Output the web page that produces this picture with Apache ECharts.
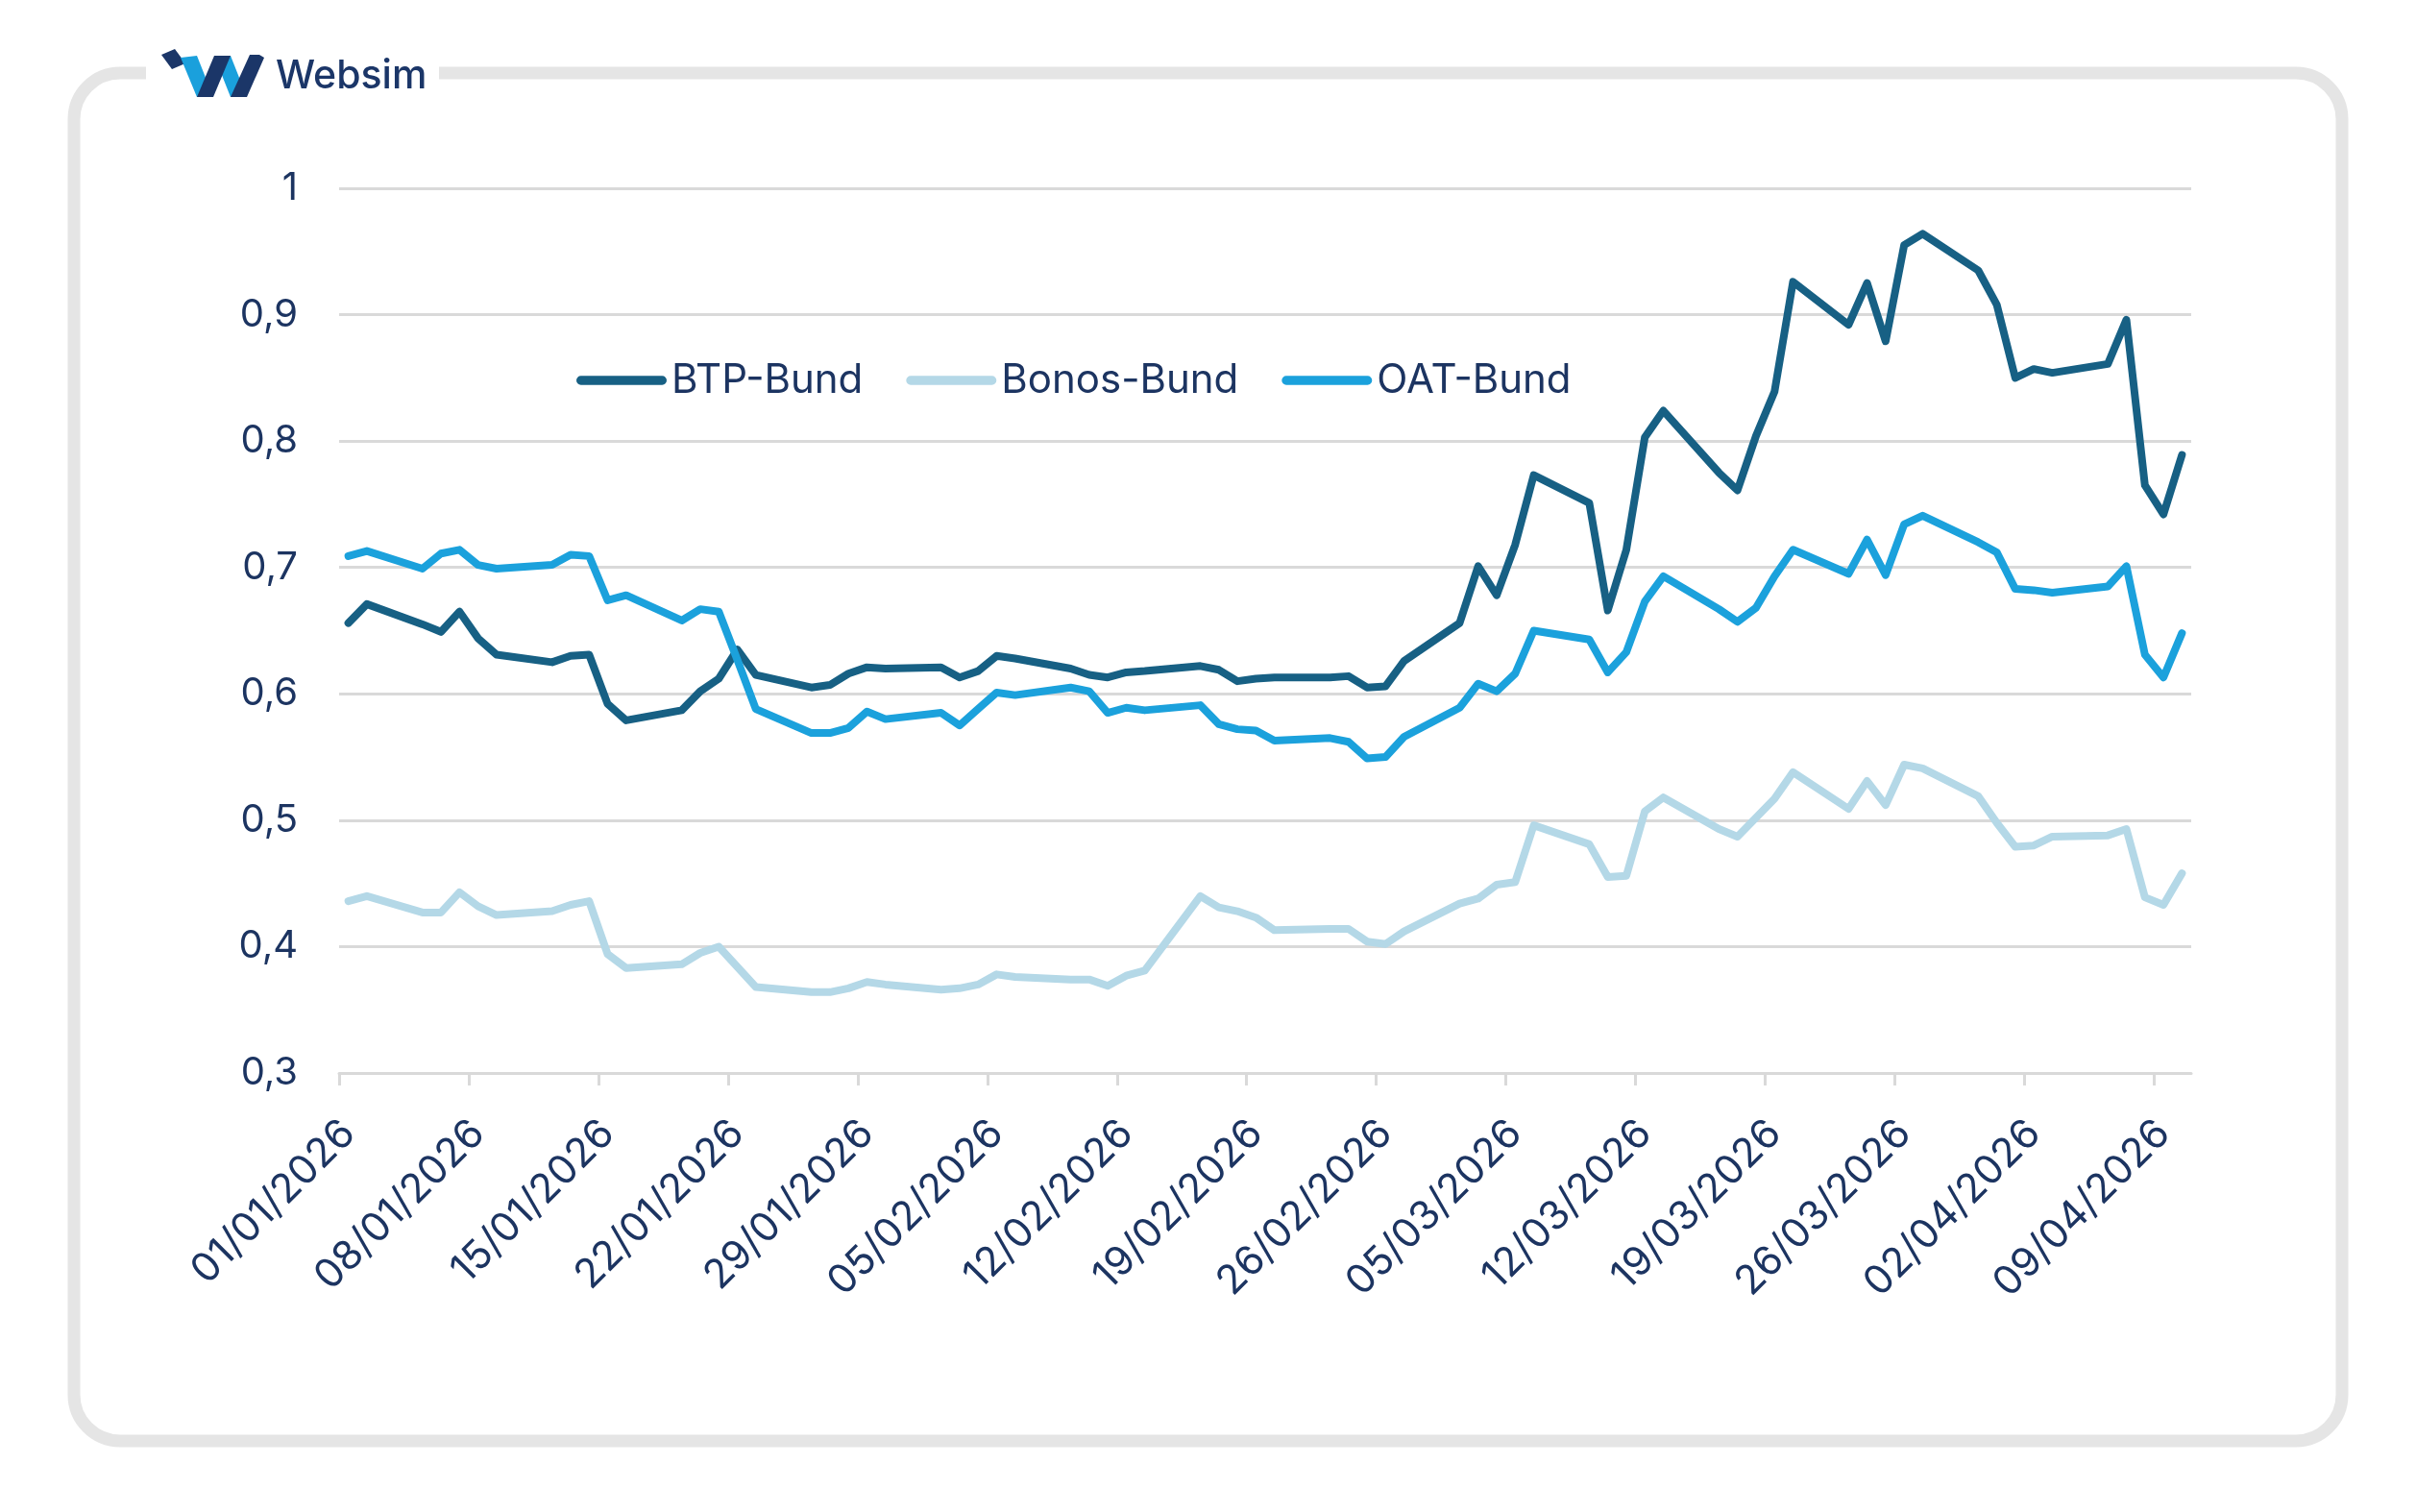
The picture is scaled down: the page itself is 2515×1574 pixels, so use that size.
<!DOCTYPE html>
<html>
<head>
<meta charset="utf-8">
<script src="https://cdn.jsdelivr.net/npm/echarts@6/dist/echarts.min.js"></script>
<style>
  html, body { margin: 0; padding: 0; background: #ffffff; }
  #chart { width: 2515px; height: 1574px; }
</style>
</head>
<body>
<div id="chart"></div>
<script>
// ---- Data ----
const seriesNames = ['BTP-Bund', 'Bonos-Bund', 'OAT-Bund'];

const tickLabels = ['01/01/2026','08/01/2026','15/01/2026','22/01/2026','29/01/2026','05/02/2026','12/02/2026',
  '19/02/2026','26/02/2026','05/03/2026','12/03/2026','19/03/2026','26/03/2026','02/04/2026','09/04/2026'];

const yTicks = [0.3, 0.4, 0.5, 0.6, 0.7, 0.8, 0.9, 1];

const dates = [
  '01/01/2026','02/01/2026',
  '05/01/2026','06/01/2026','07/01/2026','08/01/2026','09/01/2026',
  '12/01/2026','13/01/2026','14/01/2026','15/01/2026','16/01/2026',
  '19/01/2026','20/01/2026','21/01/2026','22/01/2026','23/01/2026',
  '26/01/2026','27/01/2026','28/01/2026','29/01/2026','30/01/2026',
  '02/02/2026','03/02/2026','04/02/2026','05/02/2026','06/02/2026',
  '09/02/2026','10/02/2026','11/02/2026','12/02/2026','13/02/2026',
  '16/02/2026','17/02/2026','18/02/2026','19/02/2026','20/02/2026',
  '23/02/2026','24/02/2026','25/02/2026','26/02/2026','27/02/2026',
  '02/03/2026','03/03/2026','04/03/2026','05/03/2026','06/03/2026',
  '09/03/2026','10/03/2026','11/03/2026','12/03/2026','13/03/2026',
  '16/03/2026','17/03/2026','18/03/2026','19/03/2026','20/03/2026',
  '23/03/2026','24/03/2026','25/03/2026','26/03/2026','27/03/2026',
  '30/03/2026','31/03/2026','01/04/2026','02/04/2026','03/04/2026',
  '06/04/2026','07/04/2026','08/04/2026','09/04/2026','10/04/2026'
];

const btpBund = [
  0.656, 0.671,
  0.655, 0.649, 0.665, 0.644, 0.631,
  0.625, 0.630, 0.631, 0.592, 0.579,
  0.587, 0.602, 0.612, 0.635, 0.615,
  0.605, 0.607, 0.616, 0.621, 0.620,
  0.621, 0.613, 0.618, 0.630, 0.628,
  0.620, 0.615, 0.613, 0.617, 0.618,
  0.622, 0.619, 0.610, 0.612, 0.613,
  0.613, 0.614, 0.605, 0.606, 0.626,
  0.656, 0.701, 0.678, 0.718, 0.773,
  0.751, 0.666, 0.714, 0.803, 0.824,
  0.775, 0.761, 0.804, 0.839, 0.926,
  0.892, 0.925, 0.879, 0.955, 0.964,
  0.935, 0.908, 0.850, 0.857, 0.854,
  0.861, 0.896, 0.765, 0.742, 0.789
];

const bonosBund = [
  0.436, 0.440,
  0.427, 0.427, 0.443, 0.432, 0.425,
  0.428, 0.433, 0.436, 0.394, 0.383,
  0.386, 0.395, 0.400, 0.384, 0.368,
  0.364, 0.364, 0.367, 0.372, 0.370,
  0.366, 0.367, 0.370, 0.378, 0.376,
  0.374, 0.374, 0.369, 0.377, 0.381,
  0.440, 0.431, 0.428, 0.423, 0.413,
  0.414, 0.414, 0.404, 0.402, 0.412,
  0.434, 0.438, 0.449, 0.451, 0.496,
  0.481, 0.455, 0.456, 0.507, 0.518,
  0.493, 0.487, 0.502, 0.517, 0.538,
  0.509, 0.531, 0.512, 0.544, 0.541,
  0.519, 0.498, 0.479, 0.480, 0.487,
  0.488, 0.493, 0.439, 0.433, 0.458
];

const oatBund = [
  0.709, 0.713,
  0.699, 0.711, 0.714, 0.702, 0.699,
  0.702, 0.710, 0.709, 0.674, 0.678,
  0.658, 0.667, 0.665, 0.627, 0.588,
  0.569, 0.569, 0.573, 0.586, 0.580,
  0.585, 0.575, 0.588, 0.601, 0.599,
  0.605, 0.602, 0.585, 0.589, 0.587,
  0.591, 0.576, 0.572, 0.571, 0.563,
  0.565, 0.562, 0.549, 0.550, 0.566,
  0.589, 0.608, 0.602, 0.616, 0.650,
  0.643, 0.617, 0.633, 0.673, 0.693,
  0.667, 0.657, 0.668, 0.693, 0.714,
  0.695, 0.722, 0.694, 0.734, 0.741,
  0.720, 0.712, 0.683, 0.682, 0.680,
  0.685, 0.701, 0.631, 0.613, 0.648
];

const colors = ['#176084', '#b4d8e7', '#1ba1dc'];
const textColor = '#1c3461';
const gridColor = '#d9d9d9';
const fontFamily = 'Inter, "Noto Sans", sans-serif';

// ---- Helpers ----
function dayIndex(s) {
  const p = s.split('/').map(Number);
  return Math.round((Date.UTC(p[2], p[1] - 1, p[0]) - Date.UTC(2026, 0, 1)) / 86400000);
}
const tickValues = tickLabels.map(dayIndex);
function toPoints(values) {
  return dates.map((d, i) => [dayIndex(d) + 0.5, values[i]]);
}
function yFmt(v) {
  return String(Math.round(v * 10) / 10).replace('.', ',');
}

const chart = echarts.init(document.getElementById('chart'), null, { renderer: 'canvas' });

const pill = 'path://M5,0 L95,0 A5,5 0 0 1 95,10 L5,10 A5,5 0 0 1 5,0 Z';

const option = {
  backgroundColor: '#ffffff',
  animation: false,
  textStyle: { fontFamily: fontFamily },
  grid: { left: 353, top: 196, width: 1928, height: 921, containLabel: false, outerBoundsMode: 'none' },
  legend: {
    data: seriesNames,
    left: 595,
    top: 370,
    icon: pill,
    itemWidth: 94,
    itemHeight: 10,
    itemGap: 45,
    textStyle: { color: textColor, fontSize: 42, fontFamily: fontFamily }
  },
  xAxis: {
    type: 'value',
    min: 0,
    max: 100,
    splitLine: { show: false },
    axisLine: { show: true, lineStyle: { color: gridColor, width: 3 } },
    axisTick: { show: true, customValues: tickValues, length: 13, lineStyle: { color: gridColor, width: 3 } },
    axisLabel: {
      customValues: tickValues,
      rotate: 45,
      margin: 66,
      padding: [0, -14, 0, 0],
      fontSize: 42,
      color: textColor,
      fontFamily: fontFamily,
      formatter: function (v) {
        const i = tickValues.indexOf(Math.round(v));
        return i >= 0 ? tickLabels[i] : '';
      }
    }
  },
  yAxis: {
    type: 'value',
    min: yTicks[0],
    max: yTicks[yTicks.length - 1],
    interval: 0.1,
    axisLine: { show: false },
    axisTick: { show: false },
    splitLine: { show: true, lineStyle: { color: gridColor, width: 3 } },
    axisLabel: { margin: 43, fontSize: 40, color: textColor, fontFamily: fontFamily, formatter: yFmt }
  },
  series: [
    { name: seriesNames[0], type: 'line', data: toPoints(btpBund), showSymbol: false, symbol: 'none',
      itemStyle: { color: colors[0] }, lineStyle: { color: colors[0], width: 8, cap: 'round', join: 'round' }, z: 3 },
    { name: seriesNames[1], type: 'line', data: toPoints(bonosBund), showSymbol: false, symbol: 'none',
      itemStyle: { color: colors[1] }, lineStyle: { color: colors[1], width: 8, cap: 'round', join: 'round' }, z: 2 },
    { name: seriesNames[2], type: 'line', data: toPoints(oatBund), showSymbol: false, symbol: 'none',
      itemStyle: { color: colors[2] }, lineStyle: { color: colors[2], width: 8, cap: 'round', join: 'round' }, z: 4 }
  ],
  graphic: {
    elements: [
      { type: 'rect', z: -10, silent: true,
        shape: { x: 77, y: 76, width: 2361, height: 1424, r: 48 },
        style: { fill: 'none', stroke: '#e5e5e5', lineWidth: 13 } },
      { type: 'rect', z: 10, silent: true,
        shape: { x: 152, y: 60, width: 305, height: 34 },
        style: { fill: '#ffffff' } },
      { type: 'polygon', z: 11, silent: true,
        shape: { points: [[168, 57], [182, 51], [193, 66], [179, 72]] },
        style: { fill: '#1b3668' } },
      { type: 'polygon', z: 11, silent: true,
        shape: { points: [[188, 60], [205, 58], [222, 101], [205, 101]] },
        style: { fill: '#1aa0dc' } },
      { type: 'polygon', z: 12, silent: true,
        shape: { points: [[205, 101], [222, 101], [240, 58], [223, 58]] },
        style: { fill: '#1b3668' } },
      { type: 'polygon', z: 11, silent: true,
        shape: { points: [[223, 58], [240, 58], [257, 101], [240, 101]] },
        style: { fill: '#1aa0dc' } },
      { type: 'polygon', z: 12, silent: true,
        shape: { points: [[240, 101], [257, 101], [275, 60], [270, 57], [260, 57]] },
        style: { fill: '#1b3668' } },
      { type: 'text', z: 11, silent: true,
        style: { x: 287, y: 80, text: 'Websim', fill: '#1b3668', fontSize: 41, fontWeight: 500,
                 fontFamily: fontFamily, textVerticalAlign: 'middle', verticalAlign: 'middle' } }
    ]
  }
};

chart.setOption(option);
</script>
</body>
</html>
